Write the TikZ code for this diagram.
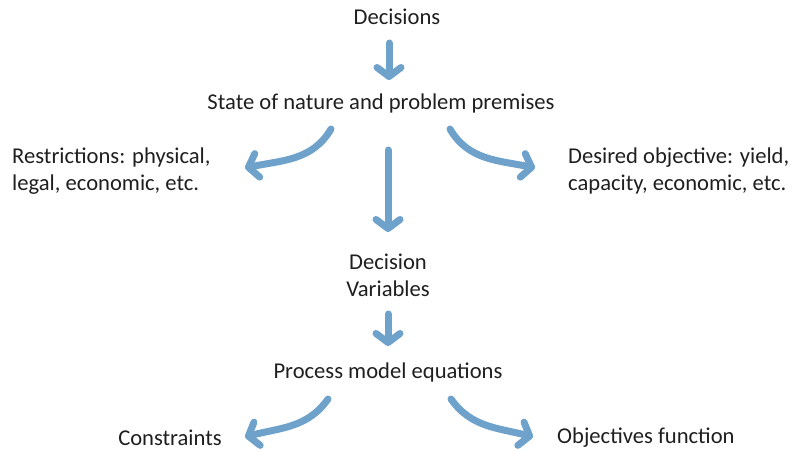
\documentclass[tikz,border=0pt]{standalone}
\usepackage{fontspec}
\setmainfont{Carlito}
\usetikzlibrary{arrows.meta}
\definecolor{flowblue}{HTML}{6FA2CB}
\begin{document}
\begin{tikzpicture}[x=1pt,y=-1pt,
  lbl/.style={inner sep=0pt, font=\fontsize{22.6}{27}\selectfont, text=black!88},
  flow/.style={draw=flowblue, line width=7pt, line cap=round,
    -{Straight Barb[round, length=9pt, width=24pt]}}]
\useasboundingbox (0,0) rectangle (794,452);

% labels
\node[lbl] (dec) at (397,17) {Decisions};
\node[lbl] (state) at (381,103) {State of nature and problem premises};
\node[lbl, anchor=west, align=left] (restr) at (12,171) {Restrictions: physical,\\legal, economic, etc.};
\node[lbl, anchor=west, align=left] (desired) at (568,171) {Desired objective: yield,\\capacity, economic, etc.};
\node[lbl, align=center] (dvar) at (388,275) {Decision\\Variables};
\node[lbl] (proc) at (388,372) {Process model equations};
\node[lbl] (cons) at (170,438) {Constraints};
\node[lbl, anchor=west] (objf) at (557,438) {Objectives function};

% arrow end points
\coordinate (a1s) at (389,43);
\coordinate (a1e) at (389,80);
\coordinate (l1s) at (331,129);
\coordinate (l1e) at (245,168);
\coordinate (c1s) at (388,150);
\coordinate (c1e) at (388,232);
\coordinate (r1s) at (450,129);
\coordinate (r1e) at (535,168);
\coordinate (a2s) at (388,314);
\coordinate (a2e) at (388,346);
\coordinate (l2s) at (328,399);
\coordinate (l2e) at (245,437);
\coordinate (r2s) at (451,399);
\coordinate (r2e) at (533,437);

% connectors
\draw[flow] (a1s) -- (a1e);
\draw[flow] (l1s) to[out=240, in=12] (l1e);
\draw[flow] (c1s) -- (c1e);
\draw[flow] (r1s) to[out=-60, in=168] (r1e);
\draw[flow] (a2s) -- (a2e);
\draw[flow] (l2s) to[out=235, in=15] (l2e);
\draw[flow] (r2s) to[out=-55, in=165] (r2e);
\end{tikzpicture}
\end{document}
